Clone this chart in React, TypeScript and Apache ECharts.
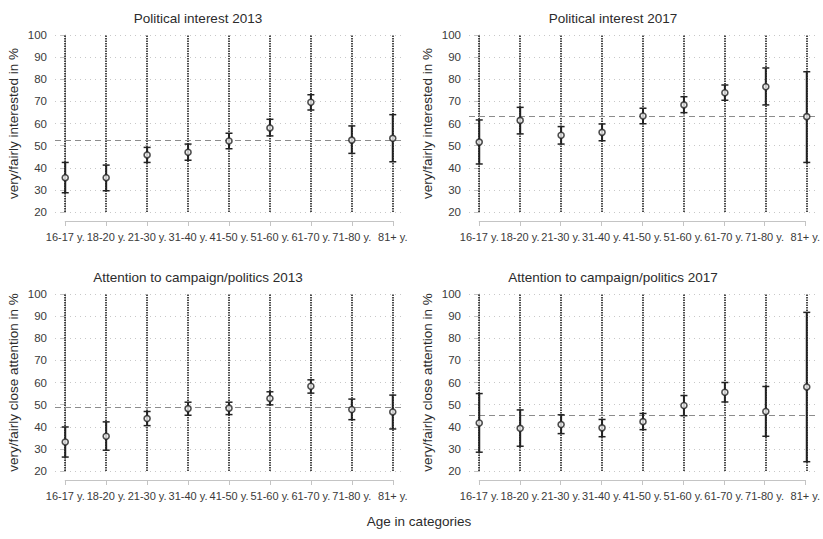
import React, { useEffect, useRef } from "react";
import * as echarts from "echarts";

const categories = ["16-17 y.", "18-20 y.", "21-30 y.", "31-40 y.", "41-50 y.", "51-60 y.", "61-70 y.", "71-80 y.", "81+ y."];

const interest2013Est = [35.5, 35.5, 45.8, 47.0, 52.1, 58.0, 69.6, 52.5, 53.3];
const interest2013Lo = [28.7, 29.6, 42.4, 43.4, 48.6, 54.4, 66.1, 46.5, 42.7];
const interest2013Hi = [42.4, 41.2, 49.2, 50.7, 55.6, 61.9, 73.0, 58.9, 64.0];
const interest2013Mean = 52.4;

const interest2017Est = [51.6, 61.4, 54.7, 56.0, 63.4, 68.4, 73.9, 76.6, 63.1];
const interest2017Lo = [41.7, 55.3, 50.7, 52.2, 59.9, 64.9, 70.5, 68.4, 42.4];
const interest2017Hi = [61.6, 67.3, 58.6, 59.8, 66.9, 72.1, 77.4, 85.1, 83.4];
const interest2017Mean = 63.4;

const attention2013Est = [33.1, 35.7, 43.7, 48.2, 48.4, 52.8, 58.3, 47.8, 46.7];
const attention2013Lo = [26.3, 29.4, 40.5, 45.2, 45.5, 49.9, 55.2, 43.2, 39.0];
const attention2013Hi = [39.9, 42.2, 46.9, 51.1, 51.1, 55.8, 61.2, 52.5, 54.3];
const attention2013Mean = 48.7;

const attention2017Est = [41.7, 39.3, 41.0, 39.5, 42.3, 49.6, 55.6, 46.9, 58.0];
const attention2017Lo = [28.5, 31.2, 36.9, 35.5, 38.7, 45.0, 51.2, 35.7, 24.2];
const attention2017Hi = [55.0, 47.6, 45.4, 43.3, 46.0, 54.1, 60.0, 58.2, 91.7];
const attention2017Mean = 45.4;

const yTickMin = 20;
const yTickMax = 100;
const yTickStep = 10;

const FONT = "'Liberation Sans', Arial, sans-serif";
const TEXT = "#2b2b2b";
const AXIS = "#c4c4c4";
const INK = "#222222";

const panels = [
  { title: "Political interest 2013", yName: "very/fairly interested in %", est: interest2013Est, lo: interest2013Lo, hi: interest2013Hi, mean: interest2013Mean, left: 55, top: 35, titleX: 198 },
  { title: "Political interest 2017", yName: "very/fairly interested in %", est: interest2017Est, lo: interest2017Lo, hi: interest2017Hi, mean: interest2017Mean, left: 469, top: 35, titleX: 613 },
  { title: "Attention to campaign/politics 2013", yName: "very/fairly close attention in %", est: attention2013Est, lo: attention2013Lo, hi: attention2013Hi, mean: attention2013Mean, left: 55, top: 294, titleX: 198 },
  { title: "Attention to campaign/politics 2017", yName: "very/fairly close attention in %", est: attention2017Est, lo: attention2017Lo, hi: attention2017Hi, mean: attention2017Mean, left: 469, top: 294, titleX: 613 },
];

const GRID_W = 348;
const GRID_H = 177;
const PAD = 0.25;

export default function App() {
  const ref = useRef<HTMLDivElement>(null);

  useEffect(() => {
    if (!ref.current) return;
    const chart = echarts.init(ref.current, undefined, { renderer: "svg" });

    const grid: any[] = [];
    const xAxis: any[] = [];
    const yAxis: any[] = [];
    const series: any[] = [];
    const graphic: any[] = [];

    panels.forEach((p, i) => {
      const unit = GRID_W / (categories.length - 1 + 2 * PAD);
      const padPx = unit * PAD;
      grid.push({ left: p.left, top: p.top, width: GRID_W, height: GRID_H, containLabel: false });
      grid.push({ left: p.left + padPx, top: p.top + GRID_H + 8, width: GRID_W - 2 * padPx, height: 1, containLabel: false });

      const dg = i * 2;
      const ag = i * 2 + 1;

      xAxis.push({
        type: "value", gridIndex: dg, min: -PAD, max: categories.length - 1 + PAD, show: false,
      });
      yAxis.push({
        type: "value", gridIndex: dg, min: yTickMin, max: yTickMax, interval: yTickStep,
        name: p.yName, nameLocation: "middle", nameGap: 35, nameRotate: 90,
        nameTextStyle: { fontFamily: FONT, fontSize: 13.5, color: TEXT },
        axisLine: { show: true, lineStyle: { color: AXIS, width: 1 } },
        axisTick: { show: true, length: 5, lineStyle: { color: AXIS } },
        axisLabel: { fontFamily: FONT, fontSize: 11.5, color: "#3a3a3a", margin: 8 },
        splitLine: { show: true, lineStyle: { color: "#c8c8c8", type: [1, 4], width: 1 } },
      });

      xAxis.push({
        type: "category", gridIndex: ag, data: categories, boundaryGap: false, position: "bottom",
        axisLine: { show: true, lineStyle: { color: AXIS, width: 1 } },
        axisTick: { show: true, length: 5, alignWithLabel: true, lineStyle: { color: AXIS } },
        axisLabel: { fontFamily: FONT, fontSize: 11, color: "#3a3a3a", margin: 10, interval: 0 },
        splitLine: { show: false },
      });
      yAxis.push({ type: "value", gridIndex: ag, show: false, min: 0, max: 1 });

      const barData = categories.map((_, k) => [k, p.lo[k], p.hi[k]]);
      const ptData = categories.map((_, k) => [k, p.est[k]]);

      series.push({
        type: "custom",
        xAxisIndex: i * 2,
        yAxisIndex: i * 2,
        z: 3,
        data: barData,
        encode: { x: 0, y: [1, 2] },
        renderItem: (params: any, api: any) => {
          const x = api.value(0);
          const lo = api.coord([x, api.value(1)]);
          const hi = api.coord([x, api.value(2)]);
          const cap = 3.5;
          return {
            type: "group",
            children: [
              { type: "line", shape: { x1: lo[0], y1: lo[1], x2: hi[0], y2: hi[1] }, style: { stroke: INK, lineWidth: 2 } },
              { type: "line", shape: { x1: lo[0] - cap, y1: lo[1], x2: lo[0] + cap, y2: lo[1] }, style: { stroke: INK, lineWidth: 1.5 } },
              { type: "line", shape: { x1: hi[0] - cap, y1: hi[1], x2: hi[0] + cap, y2: hi[1] }, style: { stroke: INK, lineWidth: 1.5 } },
            ],
          };
        },
        markLine: {
          silent: true,
          symbol: "none",
          z: 1,
          label: { show: false },
          data: [
            ...categories.map((_, k) => ({ xAxis: k, lineStyle: { color: "#111111", type: [1.5, 1], width: 1.5 } })),
            { yAxis: p.mean, lineStyle: { color: "#8c8c8c", type: [6, 4], width: 1 } },
          ],
        },
      });
      series.push({
        type: "scatter",
        xAxisIndex: i * 2,
        yAxisIndex: i * 2,
        z: 4,
        symbol: "circle",
        symbolSize: 6,
        itemStyle: { color: "#f4f4f4", borderColor: INK, borderWidth: 1.6 },
        data: ptData,
      });

      graphic.push({
        type: "text",
        x: p.titleX,
        y: p.top - 17,
        style: { text: p.title, fontFamily: FONT, fontSize: 13.5, fill: TEXT, textAlign: "center", textVerticalAlign: "middle" },
      });
    });

    graphic.push({
      type: "text",
      x: 419,
      y: 521,
      style: { text: "Age in categories", fontFamily: FONT, fontSize: 13.5, fill: TEXT, textAlign: "center", textVerticalAlign: "middle" },
    });

    chart.setOption({
      animation: false,
      backgroundColor: "#ffffff",
      textStyle: { fontFamily: FONT },
      grid,
      xAxis,
      yAxis,
      series,
      graphic,
    });

    return () => chart.dispose();
  }, []);

  return <div ref={ref} style={{ position: "fixed", left: 0, top: 0, width: 823, height: 539 }} />;
}
